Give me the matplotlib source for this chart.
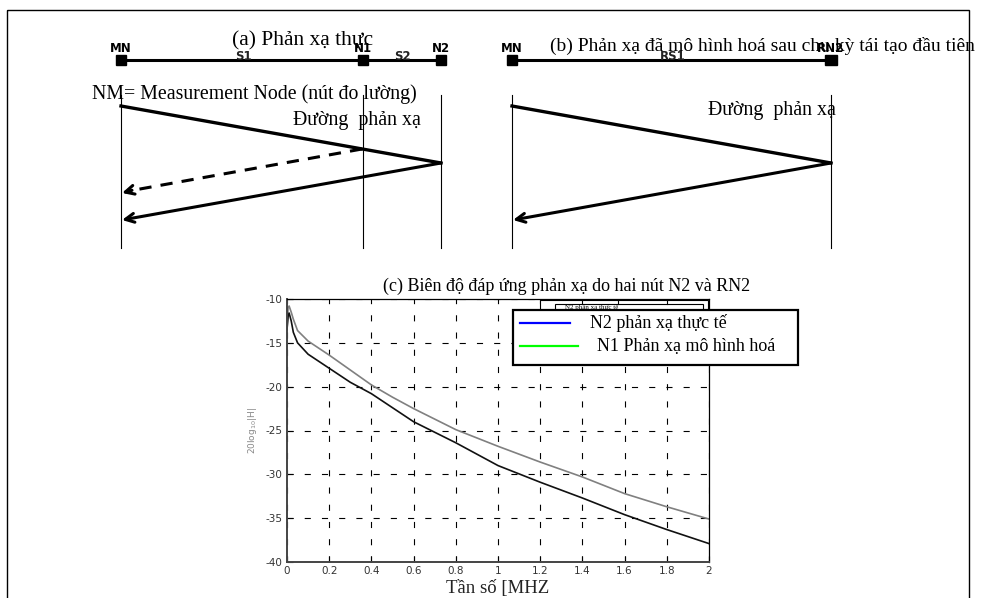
import matplotlib
matplotlib.use("Agg")
import matplotlib.pyplot as plt
from matplotlib.patches import Rectangle

plt.rcParams["axes.unicode_minus"] = False

# frequency response data
freq = [0, 0.005, 0.01, 0.02, 0.03, 0.05, 0.1, 0.2, 0.3, 0.4, 0.5, 0.6,
        0.8, 1.0, 1.2, 1.4, 1.6, 1.8, 2.0]
real_db = [-13.5, -12.0, -11.6, -12.5, -13.8, -15.0, -16.3, -17.9, -19.5,
           -20.8, -22.4, -24.0, -26.4, -29.0, -30.9, -32.7, -34.6, -36.3, -37.9]
model_db = [-13.5, -11.0, -10.8, -11.5, -12.3, -13.6, -14.8, -16.4, -18.1,
            -19.8, -21.2, -22.5, -24.9, -26.8, -28.6, -30.3, -32.2, -33.7, -35.1]
xticks = [0, 0.2, 0.4, 0.6, 0.8, 1, 1.2, 1.4, 1.6, 1.8, 2]
xticklabels = ["0", "0.2", "0.4", "0.6", "0.8", "1", "1.2", "1.4", "1.6", "1.8", "2"]
yticks = [-40, -35, -30, -25, -20, -15, -10]
legend_labels = ["N2 phản xạ thực tế", "N1 Phản xạ mô hình hoá"]

# schematic nodes (pixel positions in the page)
nodes_a = ["MN", "N1", "N2"]
nodes_a_x = [121, 363, 441]
segs_a = ["S1", "S2"]
segs_a_x = [243, 402]
nodes_b = ["MN", "RN2"]
nodes_b_x = [512, 831]
segs_b = ["RS1"]
segs_b_x = [673]

serif = ["Liberation Serif", "DejaVu Serif"]
sans_b = ["DejaVu Sans"]

fig = plt.figure(figsize=(9.89, 5.98), dpi=100)

# ---- plot (c) ----
W, H = 989, 598
L, R, T, B = 287, 709, 299, 562
ax = fig.add_axes([L / W, (H - B) / H, (R - L) / W, (B - T) / H])
ax.plot(freq, model_db, color="#808080", lw=1.2)
ax.plot(freq, real_db, color="#111111", lw=1.2)
ax.set_xlim(0, 2)
ax.set_ylim(-40, -10)
ax.set_xticks(xticks)
ax.set_xticklabels(xticklabels)
ax.set_yticks(yticks)
ax.grid(True, color="black", lw=0.8, linestyle=(0, (5.5, 10)))
ax.tick_params(direction="in", length=4, labelsize=7.5, labelcolor="#333333", pad=3)
for s in ["left", "bottom"]:
    ax.spines[s].set_color("#444444")
    ax.spines[s].set_linewidth(1.4)
for s in ["top", "right"]:
    ax.spines[s].set_linewidth(0.9)
ax.set_ylabel(r"20log$_{10}$|H|", fontsize=6.5, color="#888888", labelpad=5)
ax.set_xlabel("Tần số [MHZ", family=serif, fontsize=13.5, color="#222222", labelpad=3)

# ---- overlay in page pixels ----
ov = fig.add_axes([0, 0, 1, 1], zorder=5)
ov.set_xlim(0, W)
ov.set_ylim(H, 0)
ov.axis("off")
ov.patch.set_visible(False)

# page frame
ov.add_patch(Rectangle((7, 10), 962, 600, fill=False, ec="black", lw=1.0, clip_on=False))

def node_row(xs, names, sx, snames, y=60):
    ov.plot([xs[0], xs[-1]], [y, y], color="black", lw=2.2)
    for x, n in zip(xs, names):
        sz = 12 if n == "RN2" else 10
        ov.add_patch(Rectangle((x - sz / 2, y - 5), sz, 10, color="black"))
        ov.text(x, 48, n, ha="center", va="center", fontsize=8.5,
                fontweight="bold", family=sans_b)
    for x, n in zip(sx, snames):
        ov.text(x, 56, n, ha="center", va="center", fontsize=8.5,
                fontweight="bold", family=sans_b, color="#222222")

def arrow(x0, y0, x1, y1, ls="-"):
    if ls == "-":
        ov.annotate("", xy=(x1, y1), xytext=(x0, y0),
                    arrowprops=dict(arrowstyle="->", lw=2.2, color="black",
                                    mutation_scale=16, shrinkA=0, shrinkB=0))
    else:
        ov.plot([x0, x1 + 8], [y0, y1 - 2.2], color="black", lw=2.2, ls=(0, (4, 3)))
        ov.annotate("", xy=(x1, y1), xytext=(x1 + 10, y1 - 2.7),
                    arrowprops=dict(arrowstyle="->", lw=2.2, color="black",
                                    mutation_scale=16, shrinkA=0, shrinkB=0))

# (a)
node_row(nodes_a_x, nodes_a, segs_a_x, segs_a)
for x in nodes_a_x:
    ov.plot([x, x], [95, 248], color="black", lw=0.8)
ov.plot([121, 441], [106, 163], color="black", lw=2.4)
arrow(441, 163, 122, 220)
arrow(362, 149, 122, 193, ls="--")
ov.text(303, 41, "(a) Phản xạ thực", ha="center", va="center", fontsize=15.5, family=serif)
ov.text(92, 94, "NM= Measurement Node (nút đo lường)", ha="left", va="center",
        fontsize=14.3, family=serif)
ov.text(293, 121, "Đường  phản xạ", ha="left", va="center", fontsize=14.3, family=serif)

# (b)
node_row(nodes_b_x, nodes_b, segs_b_x, segs_b)
for x in nodes_b_x:
    ov.plot([x, x], [95, 248], color="black", lw=0.8)
ov.plot([512, 831], [106, 163], color="black", lw=2.4)
arrow(831, 163, 513, 220)
ov.text(550, 46, "(b) Phản xạ đã mô hình hoá sau chu kỳ tái tạo đầu tiên", ha="left",
        va="center", fontsize=14, family=serif)
ov.text(708, 110, "Đường  phản xạ", ha="left", va="center", fontsize=14.3, family=serif)

# (c) title
ov.text(567, 286, "(c) Biên độ đáp ứng phản xạ do hai nút N2 và RN2", ha="center",
        va="center", fontsize=13, family=serif)

# stale legend behind
ov.add_patch(Rectangle((540, 300), 168, 20, fc="white", ec="black", lw=0.8))
ov.add_patch(Rectangle((555, 304), 148, 16, fc="white", ec="black", lw=0.8))
for x in [582, 618, 667]:
    ov.plot([x, x], [300, 304], color="black", lw=0.8)
ov.text(565, 307, "N2 phản xạ thực tế", fontsize=5, family=serif, va="center")

# legend
ov.add_patch(Rectangle((513, 310), 285, 55, fc="white", ec="black", lw=1.6))
ov.plot([520, 570], [323, 323], color="#0000ff", lw=1.6)
ov.plot([520, 578], [346, 346], color="#00ff00", lw=1.6)
ov.text(590, 323, legend_labels[0], fontsize=13, family=serif, va="center")
ov.text(597, 346, legend_labels[1], fontsize=13, family=serif, va="center")

fig.savefig("out.png", dpi=100)
